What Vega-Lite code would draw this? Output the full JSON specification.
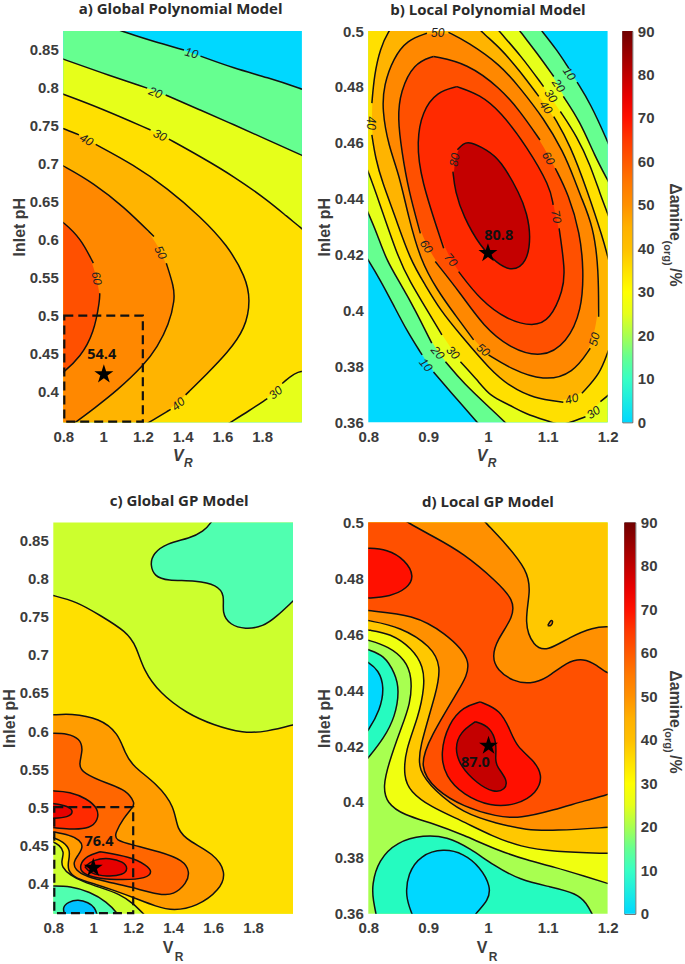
{"$schema":"https://vega.github.io/schema/vega-lite/v6.json","padding":{"left":0.3,"top":2,"right":0,"bottom":0},"background":"white","bounds":"flush","spacing":491.4,
"config":{"view":{"stroke":null},"axis":{"grid":false,"ticks":false,"domain":false,"labelFlush":false,"labelFont":"Liberation Sans","labelFontWeight":"bold","labelFontSize":15,"labelColor":"#3c3c3c","titleFont":"Liberation Sans","titleFontWeight":"bold","titleFontSize":16,"titleColor":"#3c3c3c","labelPadding":5,"titlePadding":2},"title":{"font":"Open Sans","fontWeight":"bold","fontSize":15,"color":"#2a2a2a","anchor":"middle","offset":14}},
"datasets":{
"a":[{"v":5,"x":-1,"y":-0.5},{"v":5,"x":4,"y":-0.5},{"v":5,"x":4,"y":1.8},{"v":5,"x":-1,"y":1.8},
{"v":15,"s":1,"x":1.038,"y":0.88},{"v":15,"s":1,"x":1.088,"y":0.874},{"v":15,"s":1,"x":1.239,"y":0.8615},{"v":15,"s":1,"x":1.407,"y":0.849},{"v":15,"s":2,"x":1.49,"y":0.841},{"v":15,"s":2,"x":1.658,"y":0.825},{"v":15,"s":2,"x":1.826,"y":0.813},{"v":15,"s":2,"x":2.0,"y":0.798},{"v":15,"s":2,"x":2.077,"y":0.79},{"v":15,"x":4,"y":-0.5},{"v":15,"x":-1,"y":-0.5},{"v":15,"x":-1,"y":1.8},{"v":15,"x":1.0,"y":1.8},
{"v":25,"s":3,"x":0.736,"y":0.843},{"v":25,"s":3,"x":0.8,"y":0.837},{"v":25,"s":3,"x":0.988,"y":0.8195},{"v":25,"s":3,"x":1.222,"y":0.799},{"v":25,"s":4,"x":1.315,"y":0.79},{"v":25,"s":4,"x":1.49,"y":0.77},{"v":25,"s":4,"x":1.658,"y":0.751},{"v":25,"s":4,"x":1.826,"y":0.731},{"v":25,"s":4,"x":2.0,"y":0.711},{"v":25,"s":4,"x":2.077,"y":0.701},{"v":25,"x":4,"y":-0.5},{"v":25,"x":-1,"y":-0.5},{"v":25,"x":-1,"y":1.8},
{"v":35,"s":5,"x":0.736,"y":0.797},{"v":35,"s":5,"x":0.8,"y":0.791},{"v":35,"s":5,"x":0.988,"y":0.7726},{"v":35,"s":5,"x":1.239,"y":0.744},{"v":35,"s":6,"x":1.331,"y":0.732},{"v":35,"s":6,"x":1.49,"y":0.709},{"v":35,"s":6,"x":1.658,"y":0.683},{"v":35,"s":6,"x":1.826,"y":0.652},{"v":35,"s":6,"x":1.926,"y":0.63},{"v":35,"s":6,"x":2.0,"y":0.6145},{"v":35,"s":6,"x":2.077,"y":0.597},{"v":35,"x":2.1,"y":0.45},{"v":35,"s":7,"x":2.077,"y":0.417},{"v":35,"s":7,"x":2.0,"y":0.433},{"v":35,"s":7,"x":1.901,"y":0.411},{"v":35,"s":8,"x":1.826,"y":0.391},{"v":35,"s":8,"x":1.7335,"y":0.375},{"v":35,"s":8,"x":1.641,"y":0.36},{"v":35,"s":8,"x":1.574,"y":0.349},{"v":35,"x":-1,"y":-0.5},{"v":35,"x":-1,"y":1.8},
{"v":45,"s":9,"x":0.736,"y":0.752},{"v":45,"s":9,"x":0.8,"y":0.746},{"v":45,"s":9,"x":0.879,"y":0.7376},{"v":45,"s":10,"x":0.963,"y":0.725},{"v":45,"s":10,"x":1.155,"y":0.698},{"v":45,"s":10,"x":1.323,"y":0.6675},{"v":45,"s":10,"x":1.49,"y":0.63},{"v":45,"s":10,"x":1.625,"y":0.593},{"v":45,"s":10,"x":1.717,"y":0.551},{"v":45,"s":10,"x":1.742,"y":0.521},{"v":45,"s":10,"x":1.717,"y":0.4835},{"v":45,"s":10,"x":1.625,"y":0.451},{"v":45,"s":10,"x":1.524,"y":0.424},{"v":45,"s":10,"x":1.415,"y":0.396},{"v":45,"s":11,"x":1.34,"y":0.377},{"v":45,"s":11,"x":1.231,"y":0.36},{"v":45,"s":11,"x":1.172,"y":0.35},{"v":45,"x":-1,"y":-0.5},{"v":45,"x":-1,"y":1.8},
{"v":55,"s":12,"x":0.736,"y":0.7056},{"v":55,"s":12,"x":0.8,"y":0.697},{"v":55,"s":12,"x":0.954,"y":0.674},{"v":55,"s":12,"x":1.105,"y":0.643},{"v":55,"s":12,"x":1.256,"y":0.604},{"v":55,"s":13,"x":1.318,"y":0.569},{"v":55,"s":13,"x":1.356,"y":0.538},{"v":55,"s":13,"x":1.361,"y":0.521},{"v":55,"s":13,"x":1.331,"y":0.488},{"v":55,"s":13,"x":1.273,"y":0.459},{"v":55,"s":13,"x":1.206,"y":0.435},{"v":55,"s":13,"x":1.072,"y":0.402},{"v":55,"s":13,"x":0.954,"y":0.378},{"v":55,"s":13,"x":0.862,"y":0.36},{"v":55,"s":13,"x":0.803,"y":0.35},{"v":55,"x":-1,"y":-0.5},{"v":55,"x":-1,"y":1.8},
{"v":65,"s":14,"x":0.736,"y":0.635},{"v":65,"s":14,"x":0.8,"y":0.623},{"v":65,"s":14,"x":0.887,"y":0.602},{"v":65,"s":14,"x":0.951,"y":0.569},{"v":65,"s":15,"x":0.983,"y":0.5295},{"v":65,"s":15,"x":0.984,"y":0.521},{"v":65,"s":15,"x":0.954,"y":0.477},{"v":65,"s":15,"x":0.887,"y":0.446},{"v":65,"s":15,"x":0.8,"y":0.425},{"v":65,"s":15,"x":0.736,"y":0.413},{"v":65,"x":0.652,"y":0.413},{"v":65,"x":0.652,"y":0.63}],
"aL":[{"x":1.445,"y":0.845,"t":"10","a":15},{"x":1.264,"y":0.793,"t":"20","a":22},{"x":1.286,"y":0.737,"t":"30","a":25},{"x":0.917,"y":0.731,"t":"40","a":30},{"x":1.289,"y":0.583,"t":"50","a":65},{"x":0.968,"y":0.549,"t":"60","a":80},{"x":1.378,"y":0.384,"t":"40","a":-40},{"x":1.868,"y":0.399,"t":"30","a":-40}],
"b":[{"v":5,"x":0.4,"y":0.2},{"v":5,"x":1.6,"y":0.2},{"v":5,"x":1.6,"y":0.65},{"v":5,"x":0.4,"y":0.65},
{"v":15,"s":1,"x":1.076,"y":0.504},{"v":15,"s":1,"x":1.09,"y":0.5},{"v":15,"s":1,"x":1.115,"y":0.4933},{"v":15,"s":1,"x":1.135,"y":0.4867},{"v":15,"s":2,"x":1.149,"y":0.4817},{"v":15,"s":2,"x":1.171,"y":0.4742},{"v":15,"s":2,"x":1.2,"y":0.4605},{"v":15,"s":2,"x":1.21,"y":0.4551},{"v":15,"x":1.6,"y":0.2},{"v":15,"s":3,"x":0.9955,"y":0.3567},{"v":15,"s":3,"x":0.982,"y":0.36},{"v":15,"s":3,"x":0.937,"y":0.371},{"v":15,"s":3,"x":0.909,"y":0.378},{"v":15,"s":4,"x":0.89,"y":0.3841},{"v":15,"s":4,"x":0.865,"y":0.3925},{"v":15,"s":4,"x":0.842,"y":0.402},{"v":15,"s":4,"x":0.82,"y":0.4109},{"v":15,"s":4,"x":0.8,"y":0.4181},{"v":15,"s":4,"x":0.787,"y":0.4223},{"v":15,"x":0.4,"y":0.65},
{"v":25,"s":5,"x":1.04,"y":0.504},{"v":25,"s":5,"x":1.053,"y":0.5},{"v":25,"s":5,"x":1.082,"y":0.4921},{"v":25,"s":5,"x":1.11,"y":0.4837},{"v":25,"s":6,"x":1.126,"y":0.4766},{"v":25,"s":6,"x":1.154,"y":0.4676},{"v":25,"s":6,"x":1.179,"y":0.4551},{"v":25,"s":6,"x":1.2,"y":0.4467},{"v":25,"s":6,"x":1.21,"y":0.4426},{"v":25,"x":1.6,"y":0.2},{"v":25,"s":7,"x":1.043,"y":0.3567},{"v":25,"s":7,"x":1.029,"y":0.36},{"v":25,"s":7,"x":1.004,"y":0.365},{"v":25,"s":7,"x":0.959,"y":0.374},{"v":25,"s":7,"x":0.929,"y":0.3817},{"v":25,"s":8,"x":0.906,"y":0.3883},{"v":25,"s":8,"x":0.8785,"y":0.4002},{"v":25,"s":8,"x":0.8535,"y":0.4097},{"v":25,"s":8,"x":0.83,"y":0.4181},{"v":25,"s":8,"x":0.8145,"y":0.4276},{"v":25,"s":8,"x":0.8,"y":0.4348},{"v":25,"s":8,"x":0.789,"y":0.4402},{"v":25,"x":0.4,"y":0.65},
{"v":35,"s":9,"x":1.004,"y":0.504},{"v":35,"s":9,"x":1.018,"y":0.5},{"v":35,"s":9,"x":1.054,"y":0.4915},{"v":35,"s":9,"x":1.093,"y":0.4801},{"v":35,"s":10,"x":1.121,"y":0.4712},{"v":35,"s":10,"x":1.149,"y":0.4622},{"v":35,"s":10,"x":1.171,"y":0.4521},{"v":35,"s":10,"x":1.188,"y":0.4414},{"v":35,"s":10,"x":1.2,"y":0.4348},{"v":35,"s":10,"x":1.21,"y":0.4288},{"v":35,"x":1.221,"y":0.374},{"v":35,"s":11,"x":1.21,"y":0.3716},{"v":35,"s":11,"x":1.2,"y":0.3694},{"v":35,"s":11,"x":1.188,"y":0.3674},{"v":35,"s":12,"x":1.163,"y":0.362},{"v":35,"s":12,"x":1.1375,"y":0.3599},{"v":35,"s":12,"x":1.121,"y":0.3589},{"v":35,"s":12,"x":1.107,"y":0.36},{"v":35,"s":12,"x":1.06,"y":0.3632},{"v":35,"s":12,"x":1.037,"y":0.3662},{"v":35,"s":12,"x":1.004,"y":0.3692},{"v":35,"s":12,"x":0.982,"y":0.3752},{"v":35,"s":12,"x":0.954,"y":0.3817},{"v":35,"s":13,"x":0.923,"y":0.3913},{"v":35,"s":13,"x":0.898,"y":0.4002},{"v":35,"s":13,"x":0.87,"y":0.4103},{"v":35,"s":13,"x":0.851,"y":0.4181},{"v":35,"s":13,"x":0.817,"y":0.4396},{"v":35,"s":13,"x":0.8,"y":0.4497},{"v":35,"s":13,"x":0.789,"y":0.4551},{"v":35,"x":0.4,"y":0.65},
{"v":45,"s":14,"x":0.976,"y":0.5034},{"v":45,"s":14,"x":0.987,"y":0.5},{"v":45,"s":14,"x":1.021,"y":0.4939},{"v":45,"s":14,"x":1.054,"y":0.4855},{"v":45,"s":14,"x":1.085,"y":0.4766},{"v":45,"s":15,"x":1.11,"y":0.4694},{"v":45,"s":15,"x":1.1375,"y":0.4593},{"v":45,"s":15,"x":1.1665,"y":0.4426},{"v":45,"s":15,"x":1.193,"y":0.4253},{"v":45,"s":15,"x":1.2,"y":0.4193},{"v":45,"s":15,"x":1.21,"y":0.4121},{"v":45,"x":1.221,"y":0.3919},{"v":45,"s":16,"x":1.21,"y":0.3895},{"v":45,"s":16,"x":1.2,"y":0.3853},{"v":45,"s":16,"x":1.188,"y":0.3775},{"v":45,"s":16,"x":1.157,"y":0.3704},{"v":45,"s":17,"x":1.126,"y":0.3672},{"v":45,"s":17,"x":1.076,"y":0.3686},{"v":45,"s":17,"x":1.037,"y":0.3728},{"v":45,"s":17,"x":1.004,"y":0.3787},{"v":45,"s":17,"x":0.954,"y":0.3913},{"v":45,"s":17,"x":0.92,"y":0.4002},{"v":45,"s":17,"x":0.895,"y":0.4092},{"v":45,"s":17,"x":0.87,"y":0.4181},{"v":45,"s":17,"x":0.845,"y":0.4336},{"v":45,"s":17,"x":0.823,"y":0.4461},{"v":45,"s":17,"x":0.812,"y":0.4545},{"v":45,"s":17,"x":0.806,"y":0.4628},{"v":45,"s":18,"x":0.806,"y":0.4742},{"v":45,"s":18,"x":0.81,"y":0.4843},{"v":45,"s":18,"x":0.82,"y":0.4939},{"v":45,"s":18,"x":0.834,"y":0.5},{"v":45,"s":18,"x":0.848,"y":0.504},
{"v":55,"s":19,"x":0.934,"y":0.4995},{"v":55,"s":19,"x":0.965,"y":0.4962},{"v":55,"s":19,"x":1.021,"y":0.4879},{"v":55,"s":19,"x":1.054,"y":0.4795},{"v":55,"s":19,"x":1.093,"y":0.4688},{"v":55,"s":19,"x":1.126,"y":0.4569},{"v":55,"s":19,"x":1.146,"y":0.4461},{"v":55,"s":19,"x":1.154,"y":0.4414},{"v":55,"s":19,"x":1.1765,"y":0.43},{"v":55,"s":19,"x":1.185,"y":0.4145},{"v":55,"s":19,"x":1.185,"y":0.3978},{"v":55,"s":20,"x":1.171,"y":0.3865},{"v":55,"s":20,"x":1.143,"y":0.3775},{"v":55,"s":20,"x":1.093,"y":0.3746},{"v":55,"s":20,"x":1.037,"y":0.3793},{"v":55,"s":20,"x":1.001,"y":0.3841},{"v":55,"s":21,"x":0.976,"y":0.3895},{"v":55,"s":21,"x":0.943,"y":0.399},{"v":55,"s":21,"x":0.915,"y":0.4074},{"v":55,"s":21,"x":0.887,"y":0.4181},{"v":55,"s":21,"x":0.867,"y":0.4336},{"v":55,"s":21,"x":0.851,"y":0.4491},{"v":55,"s":21,"x":0.834,"y":0.4587},{"v":55,"s":21,"x":0.823,"y":0.4718},{"v":55,"s":21,"x":0.826,"y":0.4807},{"v":55,"s":21,"x":0.842,"y":0.4903},{"v":55,"s":21,"x":0.865,"y":0.4968},{"v":55,"s":21,"x":0.898,"y":0.4992},
{"v":65,"s":22,"x":0.909,"y":0.4909},{"v":65,"s":22,"x":0.965,"y":0.4885},{"v":65,"s":22,"x":1.021,"y":0.4795},{"v":65,"s":22,"x":1.054,"y":0.4712},{"v":65,"s":22,"x":1.087,"y":0.461},{"v":65,"s":23,"x":1.1125,"y":0.4509},{"v":65,"s":23,"x":1.135,"y":0.4414},{"v":65,"s":23,"x":1.154,"y":0.4276},{"v":65,"s":23,"x":1.16,"y":0.4145},{"v":65,"s":23,"x":1.157,"y":0.4002},{"v":65,"s":23,"x":1.132,"y":0.3883},{"v":65,"s":23,"x":1.09,"y":0.3829},{"v":65,"s":23,"x":1.037,"y":0.3865},{"v":65,"s":23,"x":0.993,"y":0.3942},{"v":65,"s":23,"x":0.954,"y":0.4062},{"v":65,"s":23,"x":0.912,"y":0.4175},{"v":65,"s":24,"x":0.887,"y":0.4276},{"v":65,"s":24,"x":0.867,"y":0.4432},{"v":65,"s":24,"x":0.856,"y":0.4569},{"v":65,"s":24,"x":0.849,"y":0.4688},{"v":65,"s":24,"x":0.8535,"y":0.4783},{"v":65,"s":24,"x":0.876,"y":0.4885},{"v":65,"s":24,"x":0.909,"y":0.4909},
{"v":75,"s":25,"x":0.948,"y":0.4801},{"v":75,"s":25,"x":0.987,"y":0.4772},{"v":75,"s":25,"x":1.021,"y":0.4712},{"v":75,"s":25,"x":1.065,"y":0.4587},{"v":75,"s":25,"x":1.104,"y":0.4443},{"v":75,"s":25,"x":1.109,"y":0.4378},{"v":75,"s":26,"x":1.119,"y":0.4294},{"v":75,"s":26,"x":1.129,"y":0.4145},{"v":75,"s":26,"x":1.126,"y":0.4074},{"v":75,"s":26,"x":1.104,"y":0.3966},{"v":75,"s":26,"x":1.076,"y":0.3942},{"v":75,"s":26,"x":1.032,"y":0.3966},{"v":75,"s":26,"x":0.987,"y":0.4038},{"v":75,"s":26,"x":0.951,"y":0.4139},{"v":75,"s":27,"x":0.926,"y":0.4223},{"v":75,"s":27,"x":0.887,"y":0.4473},{"v":75,"s":27,"x":0.881,"y":0.4605},{"v":75,"s":27,"x":0.89,"y":0.4712},{"v":75,"s":27,"x":0.915,"y":0.4783},{"v":75,"s":27,"x":0.948,"y":0.4801},
{"v":85,"s":28,"x":0.949,"y":0.4575},{"v":85,"s":28,"x":0.958,"y":0.4597},{"v":85,"s":28,"x":0.97,"y":0.4605},{"v":85,"s":28,"x":0.998,"y":0.4575},{"v":85,"s":28,"x":1.021,"y":0.4539},{"v":85,"s":28,"x":1.054,"y":0.4414},{"v":85,"s":28,"x":1.065,"y":0.4348},{"v":85,"s":28,"x":1.072,"y":0.4265},{"v":85,"s":28,"x":1.065,"y":0.4169},{"v":85,"s":28,"x":1.04,"y":0.4139},{"v":85,"s":28,"x":1.015,"y":0.4169},{"v":85,"s":28,"x":0.987,"y":0.4229},{"v":85,"s":28,"x":0.959,"y":0.4336},{"v":85,"s":28,"x":0.945,"y":0.4426},{"v":85,"s":28,"x":0.9415,"y":0.4497}],
"bL":[{"x":1.136,"y":0.4847,"t":"10","a":55},{"x":1.118,"y":0.4804,"t":"20","a":55},{"x":1.105,"y":0.4768,"t":"30","a":55},{"x":1.097,"y":0.4727,"t":"40","a":55},{"x":1.101,"y":0.4545,"t":"60","a":60},{"x":0.944,"y":0.4539,"t":"80","a":-80},{"x":1.114,"y":0.4336,"t":"70","a":80},{"x":0.804,"y":0.467,"t":"40","a":90},{"x":0.916,"y":0.4992,"t":"50","a":0},{"x":0.897,"y":0.4229,"t":"60","a":55},{"x":0.938,"y":0.4181,"t":"70","a":50},{"x":0.992,"y":0.3859,"t":"50","a":40},{"x":0.9415,"y":0.3849,"t":"30","a":45},{"x":0.916,"y":0.3849,"t":"20","a":50},{"x":0.896,"y":0.3805,"t":"10","a":50},{"x":1.14,"y":0.3684,"t":"40","a":-15},{"x":1.1765,"y":0.3635,"t":"30","a":-35},{"x":1.178,"y":0.3897,"t":"50","a":-75}],
"c":[{"v":22,"x":-1,"y":-0.5},{"v":22,"x":4,"y":-0.5},{"v":22,"x":4,"y":1.8},{"v":22,"x":-1,"y":1.8},
{"v":12,"s":1,"x":1.609,"y":0.8838},{"v":12,"s":1,"x":1.593,"y":0.874},{"v":12,"s":1,"x":1.551,"y":0.862},{"v":12,"s":1,"x":1.484,"y":0.8532},{"v":12,"s":1,"x":1.367,"y":0.8466},{"v":12,"s":1,"x":1.3,"y":0.8335},{"v":12,"s":1,"x":1.284,"y":0.8181},{"v":12,"s":1,"x":1.309,"y":0.8028},{"v":12,"s":1,"x":1.367,"y":0.7976},{"v":12,"s":1,"x":1.518,"y":0.7976},{"v":12,"s":1,"x":1.618,"y":0.7919},{"v":12,"s":1,"x":1.6595,"y":0.7787},{"v":12,"s":1,"x":1.643,"y":0.7546},{"v":12,"s":1,"x":1.685,"y":0.7393},{"v":12,"s":1,"x":1.76,"y":0.7336},{"v":12,"s":1,"x":1.851,"y":0.7371},{"v":12,"s":1,"x":1.918,"y":0.7503},{"v":12,"s":1,"x":2.0,"y":0.7708},{"v":12,"s":1,"x":2.052,"y":0.7831},{"v":12,"x":2.1,"y":0.9},{"v":12,"x":1.62,"y":0.9},
{"v":12.01,"s":2,"x":0.75,"y":0.3964},{"v":12.01,"s":2,"x":0.8,"y":0.3964},{"v":12.01,"s":2,"x":0.883,"y":0.3964},{"v":12.01,"s":2,"x":0.984,"y":0.3889},{"v":12.01,"s":2,"x":1.067,"y":0.3758},{"v":12.01,"s":2,"x":1.1255,"y":0.36},{"v":12.01,"s":2,"x":1.15,"y":0.347},{"v":12.01,"x":0.75,"y":0.347},
{"v":1,"s":3,"x":0.858,"y":0.358},{"v":1,"s":3,"x":0.845,"y":0.3683},{"v":1,"s":3,"x":0.875,"y":0.3758},{"v":1,"s":3,"x":0.925,"y":0.3788},{"v":1,"s":3,"x":0.975,"y":0.3749},{"v":1,"s":3,"x":1.009,"y":0.3683},{"v":1,"s":3,"x":1.02,"y":0.358},{"v":1,"x":1.0,"y":0.35},{"v":1,"x":0.875,"y":0.35},
{"v":35,"s":4,"x":0.75,"y":0.781},{"v":35,"s":4,"x":0.8,"y":0.778},{"v":35,"s":4,"x":0.917,"y":0.77},{"v":35,"s":4,"x":1.034,"y":0.752},{"v":35,"s":4,"x":1.167,"y":0.7305},{"v":35,"s":4,"x":1.217,"y":0.7108},{"v":35,"s":4,"x":1.251,"y":0.68},{"v":35,"s":4,"x":1.334,"y":0.6495},{"v":35,"s":4,"x":1.468,"y":0.6232},{"v":35,"s":4,"x":1.601,"y":0.6079},{"v":35,"s":4,"x":1.751,"y":0.597},{"v":35,"s":4,"x":1.868,"y":0.5991},{"v":35,"s":4,"x":2.0,"y":0.6079},{"v":35,"s":4,"x":2.052,"y":0.6123},{"v":35,"x":4,"y":-0.5},{"v":35,"s":5,"x":1.3,"y":0.347},{"v":35,"s":5,"x":1.251,"y":0.36},{"v":35,"s":5,"x":1.2,"y":0.3736},{"v":35,"s":5,"x":1.134,"y":0.3858},{"v":35,"s":5,"x":1.034,"y":0.3946},{"v":35,"s":5,"x":0.95,"y":0.402},{"v":35,"s":5,"x":0.883,"y":0.4108},{"v":35,"s":5,"x":0.842,"y":0.4218},{"v":35,"s":5,"x":0.842,"y":0.4305},{"v":35,"s":5,"x":0.855,"y":0.4415},{"v":35,"s":5,"x":0.83,"y":0.4502},{"v":35,"s":5,"x":0.8,"y":0.4546},{"v":35,"s":5,"x":0.75,"y":0.459},
{"v":50,"s":6,"x":0.75,"y":0.621},{"v":50,"s":6,"x":0.8,"y":0.621},{"v":50,"s":6,"x":0.883,"y":0.6232},{"v":50,"s":6,"x":1.034,"y":0.6167},{"v":50,"s":6,"x":1.1255,"y":0.597},{"v":50,"s":6,"x":1.159,"y":0.5707},{"v":50,"s":6,"x":1.2,"y":0.5532},{"v":50,"s":6,"x":1.317,"y":0.5313},{"v":50,"s":6,"x":1.409,"y":0.5006},{"v":50,"s":6,"x":1.4175,"y":0.47},{"v":50,"s":6,"x":1.484,"y":0.4546},{"v":50,"s":6,"x":1.601,"y":0.4393},{"v":50,"s":6,"x":1.668,"y":0.4152},{"v":50,"s":6,"x":1.6345,"y":0.3911},{"v":50,"s":6,"x":1.518,"y":0.3692},{"v":50,"s":6,"x":1.401,"y":0.3639},{"v":50,"s":6,"x":1.317,"y":0.3692},{"v":50,"s":6,"x":1.2,"y":0.3815},{"v":50,"s":6,"x":1.1,"y":0.3911},{"v":50,"s":6,"x":1.017,"y":0.3985},{"v":50,"s":6,"x":0.9085,"y":0.4064},{"v":50,"s":6,"x":0.872,"y":0.4174},{"v":50,"s":6,"x":0.875,"y":0.4283},{"v":50,"s":6,"x":0.887,"y":0.4437},{"v":50,"s":6,"x":0.85,"y":0.4546},{"v":50,"s":6,"x":0.8,"y":0.4603},{"v":50,"s":6,"x":0.75,"y":0.4634},
{"v":60,"s":7,"x":0.75,"y":0.597},{"v":60,"s":7,"x":0.8,"y":0.597},{"v":60,"s":7,"x":0.867,"y":0.597},{"v":60,"s":7,"x":0.9335,"y":0.5904},{"v":60,"s":7,"x":0.95,"y":0.5751},{"v":60,"s":7,"x":0.925,"y":0.5553},{"v":60,"s":7,"x":0.95,"y":0.5444},{"v":60,"s":7,"x":1.067,"y":0.5313},{"v":60,"s":7,"x":1.167,"y":0.5225},{"v":60,"s":7,"x":1.209,"y":0.505},{"v":60,"s":7,"x":1.2,"y":0.5006},{"v":60,"s":7,"x":1.1505,"y":0.4853},{"v":60,"s":7,"x":1.109,"y":0.4656},{"v":60,"s":7,"x":1.109,"y":0.4568},{"v":60,"s":7,"x":1.2,"y":0.4502},{"v":60,"s":7,"x":1.334,"y":0.4415},{"v":60,"s":7,"x":1.451,"y":0.4305},{"v":60,"s":7,"x":1.484,"y":0.4152},{"v":60,"s":7,"x":1.468,"y":0.3999},{"v":60,"s":7,"x":1.401,"y":0.3845},{"v":60,"s":7,"x":1.334,"y":0.3845},{"v":60,"s":7,"x":1.184,"y":0.3955},{"v":60,"s":7,"x":1.067,"y":0.402},{"v":60,"s":7,"x":0.967,"y":0.4086},{"v":60,"s":7,"x":0.9085,"y":0.4174},{"v":60,"s":7,"x":0.9,"y":0.4283},{"v":60,"s":7,"x":0.925,"y":0.4371},{"v":60,"s":7,"x":0.95,"y":0.448},{"v":60,"s":7,"x":0.9335,"y":0.4568},{"v":60,"s":7,"x":0.883,"y":0.4634},{"v":60,"s":7,"x":0.8,"y":0.4677},{"v":60,"s":7,"x":0.75,"y":0.47},
{"v":75,"s":8,"x":0.75,"y":0.5216},{"v":75,"s":8,"x":0.8,"y":0.5216},{"v":75,"s":8,"x":0.883,"y":0.5203},{"v":75,"s":8,"x":0.967,"y":0.5115},{"v":75,"s":8,"x":1.025,"y":0.4984},{"v":75,"s":8,"x":1.025,"y":0.4831},{"v":75,"s":8,"x":0.984,"y":0.4721},{"v":75,"s":8,"x":0.892,"y":0.4708},{"v":75,"s":8,"x":0.8,"y":0.4734},{"v":75,"s":8,"x":0.75,"y":0.4734},
{"v":75.01,"s":9,"x":1.034,"y":0.4415},{"v":75.01,"s":9,"x":1.184,"y":0.4349},{"v":75.01,"s":9,"x":1.267,"y":0.4239},{"v":75.01,"s":9,"x":1.297,"y":0.4152},{"v":75.01,"s":9,"x":1.267,"y":0.4064},{"v":75.01,"s":9,"x":1.1505,"y":0.4042},{"v":75.01,"s":9,"x":1.017,"y":0.4064},{"v":75.01,"s":9,"x":0.942,"y":0.413},{"v":75.01,"s":9,"x":0.93,"y":0.4239},{"v":75.01,"s":9,"x":0.967,"y":0.4362},{"v":75.01,"s":9,"x":1.034,"y":0.4415},
{"v":80,"s":10,"x":0.9586,"y":0.4218},{"v":80,"s":10,"x":1.0,"y":0.4314},{"v":80,"s":10,"x":1.084,"y":0.4336},{"v":80,"s":10,"x":1.1505,"y":0.4283},{"v":80,"s":10,"x":1.1755,"y":0.4196},{"v":80,"s":10,"x":1.1505,"y":0.4108},{"v":80,"s":10,"x":1.067,"y":0.4086},{"v":80,"s":10,"x":0.984,"y":0.413},{"v":80,"s":10,"x":0.9586,"y":0.4218},
{"v":80.01,"s":11,"x":0.75,"y":0.5059},{"v":80.01,"s":11,"x":0.8,"y":0.505},{"v":80.01,"s":11,"x":0.875,"y":0.5015},{"v":80.01,"s":11,"x":0.9035,"y":0.494},{"v":80.01,"s":11,"x":0.875,"y":0.4866},{"v":80.01,"s":11,"x":0.8,"y":0.4853},{"v":80.01,"s":11,"x":0.75,"y":0.4853}],
"d":[{"v":20,"x":0.4,"y":0.2},{"v":20,"x":1.6,"y":0.2},{"v":20,"x":1.6,"y":0.65},{"v":20,"x":0.4,"y":0.65},
{"v":11,"s":1,"x":0.8145,"y":0.3583},{"v":11,"s":1,"x":0.808,"y":0.3649},{"v":11,"s":1,"x":0.806,"y":0.3703},{"v":11,"s":1,"x":0.817,"y":0.3792},{"v":11,"s":1,"x":0.848,"y":0.3858},{"v":11,"s":1,"x":0.8925,"y":0.3882},{"v":11,"s":1,"x":0.9315,"y":0.3876},{"v":11,"s":1,"x":0.97,"y":0.3834},{"v":11,"s":1,"x":1.009,"y":0.3774},{"v":11,"s":1,"x":1.054,"y":0.372},{"v":11,"s":1,"x":1.104,"y":0.3697},{"v":11,"s":1,"x":1.149,"y":0.3673},{"v":11,"s":1,"x":1.165,"y":0.3637},{"v":11,"s":1,"x":1.174,"y":0.36},{"v":11,"s":1,"x":1.179,"y":0.3577},{"v":11,"x":1.2,"y":0.34},{"v":11,"x":0.8,"y":0.34},
{"v":11.01,"s":2,"x":0.787,"y":0.4556},{"v":11.01,"s":2,"x":0.8,"y":0.4544},{"v":11.01,"s":2,"x":0.826,"y":0.4526},{"v":11.01,"s":2,"x":0.845,"y":0.446},{"v":11.01,"s":2,"x":0.852,"y":0.44},{"v":11.01,"s":2,"x":0.845,"y":0.4305},{"v":11.01,"s":2,"x":0.826,"y":0.4228},{"v":11.01,"s":2,"x":0.8,"y":0.4158},{"v":11.01,"s":2,"x":0.787,"y":0.4126},
{"v":5,"s":3,"x":0.876,"y":0.3583},{"v":5,"s":3,"x":0.873,"y":0.36},{"v":5,"s":3,"x":0.862,"y":0.3661},{"v":5,"s":3,"x":0.866,"y":0.3744},{"v":5,"s":3,"x":0.887,"y":0.381},{"v":5,"s":3,"x":0.926,"y":0.3834},{"v":5,"s":3,"x":0.959,"y":0.3816},{"v":5,"s":3,"x":0.987,"y":0.3768},{"v":5,"s":3,"x":1.005,"y":0.3697},{"v":5,"s":3,"x":1.001,"y":0.3649},{"v":5,"s":3,"x":0.979,"y":0.36},{"v":5,"s":3,"x":0.973,"y":0.3577},
{"v":5.01,"s":4,"x":0.787,"y":0.4514},{"v":5.01,"s":4,"x":0.8,"y":0.45},{"v":5.01,"s":4,"x":0.817,"y":0.4472},{"v":5.01,"s":4,"x":0.827,"y":0.4412},{"v":5.01,"s":4,"x":0.82,"y":0.4329},{"v":5.01,"s":4,"x":0.8,"y":0.4255},{"v":5.01,"s":4,"x":0.787,"y":0.4222},
{"v":28,"s":5,"x":0.787,"y":0.4585},{"v":28,"s":5,"x":0.8,"y":0.4579},{"v":28,"s":5,"x":0.834,"y":0.4556},{"v":28,"s":5,"x":0.862,"y":0.4508},{"v":28,"s":5,"x":0.873,"y":0.4448},{"v":28,"s":5,"x":0.871,"y":0.4353},{"v":28,"s":5,"x":0.8535,"y":0.4257},{"v":28,"s":5,"x":0.834,"y":0.4138},{"v":28,"s":5,"x":0.8245,"y":0.4055},{"v":28,"s":5,"x":0.831,"y":0.3995},{"v":28,"s":5,"x":0.859,"y":0.3953},{"v":28,"s":5,"x":0.909,"y":0.3923},{"v":28,"s":5,"x":0.959,"y":0.3882},{"v":28,"s":5,"x":1.015,"y":0.3828},{"v":28,"s":5,"x":1.065,"y":0.3792},{"v":28,"s":5,"x":1.11,"y":0.3768},{"v":28,"s":5,"x":1.165,"y":0.3732},{"v":28,"s":5,"x":1.2,"y":0.3709},{"v":28,"s":5,"x":1.21,"y":0.3701},{"v":28,"x":1.6,"y":0.37},{"v":28,"x":1.6,"y":0.65},{"v":28,"x":0.4,"y":0.65},{"v":28,"x":0.4,"y":0.4585},
{"v":40,"s":6,"x":0.787,"y":0.462},{"v":40,"s":6,"x":0.8,"y":0.4615},{"v":40,"s":6,"x":0.837,"y":0.4603},{"v":40,"s":6,"x":0.873,"y":0.455},{"v":40,"s":6,"x":0.8925,"y":0.4484},{"v":40,"s":6,"x":0.894,"y":0.4412},{"v":40,"s":6,"x":0.884,"y":0.4305},{"v":40,"s":6,"x":0.862,"y":0.4186},{"v":40,"s":6,"x":0.859,"y":0.409},{"v":40,"s":6,"x":0.87,"y":0.4037},{"v":40,"s":6,"x":0.9036,"y":0.3983},{"v":40,"s":6,"x":0.954,"y":0.3935},{"v":40,"s":6,"x":1.009,"y":0.3876},{"v":40,"s":6,"x":1.054,"y":0.384},{"v":40,"s":6,"x":1.11,"y":0.3822},{"v":40,"s":6,"x":1.2,"y":0.3816},{"v":40,"s":6,"x":1.21,"y":0.3816},{"v":40,"x":1.6,"y":0.38},{"v":40,"x":1.6,"y":0.65},{"v":40,"x":0.4,"y":0.65},{"v":40,"x":0.4,"y":0.462},
{"v":53,"s":7,"x":0.787,"y":0.4653},{"v":53,"s":7,"x":0.8,"y":0.4649},{"v":53,"s":7,"x":0.8535,"y":0.4627},{"v":53,"s":7,"x":0.906,"y":0.4556},{"v":53,"s":7,"x":0.9214,"y":0.4484},{"v":53,"s":7,"x":0.915,"y":0.44},{"v":53,"s":7,"x":0.884,"y":0.4186},{"v":53,"s":7,"x":0.884,"y":0.4114},{"v":53,"s":7,"x":0.909,"y":0.4043},{"v":53,"s":7,"x":0.959,"y":0.3959},{"v":53,"s":7,"x":1.015,"y":0.3923},{"v":53,"s":7,"x":1.065,"y":0.3899},{"v":53,"s":7,"x":1.11,"y":0.3897},{"v":53,"s":7,"x":1.2,"y":0.3909},{"v":53,"s":7,"x":1.21,"y":0.3911},{"v":53,"x":1.221,"y":0.4281},{"v":53,"s":8,"x":1.21,"y":0.4627},{"v":53,"s":8,"x":1.2,"y":0.4627},{"v":53,"s":8,"x":1.1765,"y":0.4625},{"v":53,"s":8,"x":1.1375,"y":0.4591},{"v":53,"s":8,"x":1.0986,"y":0.4538},{"v":53,"s":8,"x":1.076,"y":0.4556},{"v":53,"s":8,"x":1.06,"y":0.4639},{"v":53,"s":8,"x":1.072,"y":0.4758},{"v":53,"s":8,"x":1.065,"y":0.483},{"v":53,"s":8,"x":1.032,"y":0.4919},{"v":53,"s":8,"x":0.9955,"y":0.5},{"v":53,"s":8,"x":0.982,"y":0.5033},{"v":53,"x":0.4,"y":0.65},{"v":53,"x":0.4,"y":0.4653},
{"v":53.01,"s":9,"x":1.1,"y":0.4631},{"v":53.01,"s":9,"x":1.105,"y":0.4652},{"v":53.01,"s":9,"x":1.1095,"y":0.4647},{"v":53.01,"s":9,"x":1.1052,"y":0.4628},{"v":53.01,"s":9,"x":1.1,"y":0.4631},
{"v":65,"s":10,"x":0.787,"y":0.4689},{"v":65,"s":10,"x":0.8,"y":0.4684},{"v":65,"s":10,"x":0.876,"y":0.4669},{"v":65,"s":10,"x":0.926,"y":0.4609},{"v":65,"s":10,"x":0.979,"y":0.4502},{"v":65,"s":10,"x":0.951,"y":0.44},{"v":65,"s":10,"x":0.9036,"y":0.4233},{"v":65,"s":10,"x":0.884,"y":0.4126},{"v":65,"s":10,"x":0.912,"y":0.4043},{"v":65,"s":10,"x":0.959,"y":0.3983},{"v":65,"s":10,"x":1.015,"y":0.3947},{"v":65,"s":10,"x":1.054,"y":0.3941},{"v":65,"s":10,"x":1.11,"y":0.3971},{"v":65,"s":10,"x":1.165,"y":0.4007},{"v":65,"s":10,"x":1.2,"y":0.4025},{"v":65,"s":10,"x":1.21,"y":0.4037},{"v":65,"x":1.221,"y":0.4281},{"v":65,"s":11,"x":1.21,"y":0.4466},{"v":65,"s":11,"x":1.2,"y":0.4457},{"v":65,"s":11,"x":1.182,"y":0.449},{"v":65,"s":11,"x":1.16,"y":0.4514},{"v":65,"s":11,"x":1.132,"y":0.4502},{"v":65,"s":11,"x":1.0986,"y":0.4442},{"v":65,"s":11,"x":1.071,"y":0.4422},{"v":65,"s":11,"x":1.043,"y":0.443},{"v":65,"s":11,"x":1.015,"y":0.4472},{"v":65,"s":11,"x":1.007,"y":0.452},{"v":65,"s":11,"x":1.015,"y":0.4579},{"v":65,"s":11,"x":1.043,"y":0.4663},{"v":65,"s":11,"x":1.043,"y":0.4723},{"v":65,"s":11,"x":1.015,"y":0.4788},{"v":65,"s":11,"x":0.959,"y":0.489},{"v":65,"s":11,"x":0.909,"y":0.4949},{"v":65,"s":11,"x":0.865,"y":0.5},{"v":65,"s":11,"x":0.848,"y":0.5027},{"v":65,"x":0.4,"y":0.65},{"v":65,"x":0.4,"y":0.4689},
{"v":77,"s":12,"x":0.787,"y":0.4908},{"v":77,"s":12,"x":0.8,"y":0.4908},{"v":77,"s":12,"x":0.831,"y":0.4904},{"v":77,"s":12,"x":0.862,"y":0.4866},{"v":77,"s":12,"x":0.8774,"y":0.4806},{"v":77,"s":12,"x":0.865,"y":0.4764},{"v":77,"s":12,"x":0.837,"y":0.4735},{"v":77,"s":12,"x":0.8,"y":0.4729},{"v":77,"s":12,"x":0.787,"y":0.4729},
{"v":77.01,"s":13,"x":0.987,"y":0.4358},{"v":77.01,"s":13,"x":1.021,"y":0.4329},{"v":77.01,"s":13,"x":1.037,"y":0.4257},{"v":77.01,"s":13,"x":1.048,"y":0.4198},{"v":77.01,"s":13,"x":1.076,"y":0.415},{"v":77.01,"s":13,"x":1.092,"y":0.4096},{"v":77.01,"s":13,"x":1.082,"y":0.4031},{"v":77.01,"s":13,"x":1.048,"y":0.3989},{"v":77.01,"s":13,"x":1.004,"y":0.3983},{"v":77.01,"s":13,"x":0.959,"y":0.4025},{"v":77.01,"s":13,"x":0.929,"y":0.409},{"v":77.01,"s":13,"x":0.92,"y":0.4174},{"v":77.01,"s":13,"x":0.934,"y":0.4281},{"v":77.01,"s":13,"x":0.959,"y":0.4341},{"v":77.01,"s":13,"x":0.987,"y":0.4358},
{"v":85,"s":14,"x":0.979,"y":0.4287},{"v":85,"s":14,"x":1.004,"y":0.4269},{"v":85,"s":14,"x":1.015,"y":0.421},{"v":85,"s":14,"x":1.012,"y":0.415},{"v":85,"s":14,"x":1.015,"y":0.4126},{"v":85,"s":14,"x":1.033,"y":0.4078},{"v":85,"s":14,"x":1.029,"y":0.4043},{"v":85,"s":14,"x":1.009,"y":0.4033},{"v":85,"s":14,"x":0.982,"y":0.4066},{"v":85,"s":14,"x":0.954,"y":0.4126},{"v":85,"s":14,"x":0.944,"y":0.4192},{"v":85,"s":14,"x":0.954,"y":0.4251},{"v":85,"s":14,"x":0.979,"y":0.4287}]
},
"vconcat":[
{"bounds":"flush","spacing":0,"hconcat":[
{"width":9.5,"height":391.3,"data":{"values":[{}]},"mark":{"type":"rect","opacity":0}},
{"width":238.6,"height":391.3,"title":{"text":"a) Global Polynomial Model","dx":-2},
"encoding":{"x":{"field":"x","type":"quantitative","title":null,"scale":{"domain":[0.8,2.0],"nice":false,"zero":false},"axis":{"values":[0.8,1,1.2,1.4,1.6,1.8],"format":"~g","labelPadding":7}},"y":{"field":"y","type":"quantitative","scale":{"domain":[0.36,0.874],"nice":false,"zero":false},"axis":{"title":"Inlet pH","values":[0.4,0.45,0.5,0.55,0.6,0.65,0.7,0.75,0.8,0.85],"format":"~g"}}},
"layer":[
{"data":{"name":"a"},"transform":[{"window":[{"op":"row_number","as":"i"}]}],"mark":{"type":"line","interpolate":"basis-closed","clip":true,"strokeWidth":0},"encoding":{"fill":{"field":"v","type":"quantitative","legend":null,"scale":{"domain":[0,5,12,15,20,22,25,28,35,40,45,50,53,55,60,65,75,77,80,85,90],"range":["#00bcff","#00d8ff","#50ffb0","#66ff90","#a8ff50","#ccff2e","#e6ff1a","#f0ff10","#ffe000","#ffc800","#ffb400","#ff9c00","#ff9000","#ff8800","#ff6600","#ff5000","#ff2a00","#ff1000","#e60000","#c40000","#700000"]}},"detail":{"field":"v","type":"nominal"},"order":{"field":"i","type":"quantitative"}}},
{"data":{"name":"a"},"transform":[{"window":[{"op":"row_number","as":"i"}]},{"filter":"datum.s"}],"mark":{"type":"line","interpolate":"basis","clip":true,"stroke":"#111","strokeWidth":1.5},"encoding":{"detail":{"field":"s","type":"nominal"},"order":{"field":"i","type":"quantitative"}}},
{"data":{"values":[{"x":0.805,"x2":1.2,"y":0.361,"y2":0.5}]},"mark":{"type":"rect","fill":null,"stroke":"#111","strokeWidth":2.2,"strokeDash":[9,5]},"encoding":{"x2":{"field":"x2"},"y2":{"field":"y2"}}},
{"data":{"name":"aL"},"mark":{"type":"text","font":"Liberation Sans","fontStyle":"italic","fontSize":12,"fill":"#222"},"encoding":{"text":{"field":"t"},"angle":{"field":"a","type":"quantitative","scale":null}}},
{"data":{"values":[{"x":1.004,"y":0.423}]},"mark":{"type":"point","filled":true,"fill":"black","stroke":null,"opacity":1,"size":400,"shape":"M0,-1L0.225,-0.309L0.951,-0.309L0.363,0.118L0.588,0.809L0,0.382L-0.588,0.809L-0.363,0.118L-0.951,-0.309L-0.225,-0.309Z"}},
{"data":{"values":[{"x":0.993,"y":0.4485,"t":"54.4"}]},"mark":{"type":"text","font":"Open Sans","fontWeight":"bold","fontSize":14.5,"fill":"#111"},"encoding":{"text":{"field":"t"}}},
{"data":{"values":[{"x":1.378,"y":0.36,"t":"V"}]},"mark":{"type":"text","font":"Liberation Sans","fontWeight":"bold","fontStyle":"italic","fontSize":16,"fill":"#3c3c3c","dy":34},"encoding":{"text":{"field":"t"}}},
{"data":{"values":[{"x":1.378,"y":0.36,"t":"R"}]},"mark":{"type":"text","font":"Liberation Sans","fontWeight":"bold","fontStyle":"italic","fontSize":12,"fill":"#3c3c3c","dy":41,"dx":10},"encoding":{"text":{"field":"t"}}}
]},
{"width":66,"height":391.3,"data":{"values":[{}]},"mark":{"type":"rect","opacity":0}},
{"width":239.3,"height":391.3,"title":{"text":"b) Local Polynomial Model","offset":6},
"encoding":{"x":{"field":"x","type":"quantitative","title":null,"scale":{"domain":[0.8,1.2],"nice":false,"zero":false},"axis":{"values":[0.8,0.9,1,1.1,1.2],"format":"~g","labelPadding":7}},"y":{"field":"y","type":"quantitative","scale":{"domain":[0.36,0.5],"nice":false,"zero":false},"axis":{"title":"Inlet pH","values":[0.36,0.38,0.4,0.42,0.44,0.46,0.48,0.5],"format":"~g"}}},
"layer":[
{"data":{"name":"b"},"transform":[{"window":[{"op":"row_number","as":"i"}]}],"mark":{"type":"line","interpolate":"basis-closed","clip":true,"strokeWidth":0},"encoding":{"fill":{"field":"v","type":"quantitative","legend":null,"scale":{"domain":[0,5,12,15,20,22,25,28,35,40,45,50,53,55,60,65,75,77,80,85,90],"range":["#00bcff","#00d8ff","#50ffb0","#66ff90","#a8ff50","#ccff2e","#e6ff1a","#f0ff10","#ffe000","#ffc800","#ffb400","#ff9c00","#ff9000","#ff8800","#ff6600","#ff5000","#ff2a00","#ff1000","#e60000","#c40000","#700000"]}},"detail":{"field":"v","type":"nominal"},"order":{"field":"i","type":"quantitative"}}},
{"data":{"name":"b"},"transform":[{"window":[{"op":"row_number","as":"i"}]},{"filter":"datum.s"}],"mark":{"type":"line","interpolate":"basis","clip":true,"stroke":"#111","strokeWidth":1.5},"encoding":{"detail":{"field":"s","type":"nominal"},"order":{"field":"i","type":"quantitative"}}},
{"data":{"name":"bL"},"mark":{"type":"text","font":"Liberation Sans","fontStyle":"italic","fontSize":12,"fill":"#222"},"encoding":{"text":{"field":"t"},"angle":{"field":"a","type":"quantitative","scale":null}}},
{"data":{"values":[{"x":1.0,"y":0.4205}]},"mark":{"type":"point","filled":true,"fill":"black","stroke":null,"opacity":1,"size":400,"shape":"M0,-1L0.225,-0.309L0.951,-0.309L0.363,0.118L0.588,0.809L0,0.382L-0.588,0.809L-0.363,0.118L-0.951,-0.309L-0.225,-0.309Z"}},
{"data":{"values":[{"x":1.018,"y":0.4268,"t":"80.8"}]},"mark":{"type":"text","font":"Open Sans","fontWeight":"bold","fontSize":14.5,"fill":"#111"},"encoding":{"text":{"field":"t"}}},
{"data":{"values":[{"x":0.99,"y":0.36,"t":"V"}]},"mark":{"type":"text","font":"Liberation Sans","fontWeight":"bold","fontStyle":"italic","fontSize":16,"fill":"#3c3c3c","dy":34},"encoding":{"text":{"field":"t"}}},
{"data":{"values":[{"x":0.99,"y":0.36,"t":"R"}]},"mark":{"type":"text","font":"Liberation Sans","fontWeight":"bold","fontStyle":"italic","fontSize":12,"fill":"#3c3c3c","dy":41,"dx":10},"encoding":{"text":{"field":"t"}}}
]},
{"width":14,"height":391.3,"data":{"values":[{}]},"mark":{"type":"rect","opacity":0}},
{"width":10,"height":391.3,"view":{"stroke":"#555"},"encoding":{"y":{"field":"lo","type":"quantitative","scale":{"domain":[0,90],"nice":false},"axis":{"orient":"right","title":null,"values":[0,10,20,30,40,50,60,70,80,90]}}},
"layer":[
{"data":{"values":[{"lo":0,"hi":90}]},"mark":{"type":"rect","fill":{"gradient":"linear","x1":0,"y1":1,"x2":0,"y2":0,"stops":[{"offset":0,"color":"#00d8ff"},{"offset":0.111,"color":"#38ffc4"},{"offset":0.167,"color":"#66ff90"},{"offset":0.222,"color":"#a8ff50"},{"offset":0.278,"color":"#e6ff1a"},{"offset":0.333,"color":"#ffff00"},{"offset":0.389,"color":"#ffe000"},{"offset":0.444,"color":"#ffc000"},{"offset":0.5,"color":"#ffb000"},{"offset":0.556,"color":"#ff9000"},{"offset":0.611,"color":"#ff7800"},{"offset":0.667,"color":"#ff5800"},{"offset":0.722,"color":"#ff3800"},{"offset":0.778,"color":"#ff1000"},{"offset":0.833,"color":"#e80000"},{"offset":0.889,"color":"#c00000"},{"offset":1,"color":"#700000"}]}},"encoding":{"y2":{"field":"hi"}}},
{"data":{"values":[{"lo":55,"t":"Δamine"}]},"mark":{"type":"text","font":"Liberation Sans","fontWeight":"bold","fontSize":16,"fill":"#3c3c3c","angle":90,"align":"left","baseline":"middle","dy":-48},"encoding":{"text":{"field":"t"}}},
{"data":{"values":[{"lo":41.8,"t":"(org)"}]},"mark":{"type":"text","font":"Liberation Sans","fontWeight":"bold","fontSize":11,"fill":"#3c3c3c","angle":90,"align":"left","baseline":"middle","dy":-40},"encoding":{"text":{"field":"t"}}},
{"data":{"values":[{"lo":35.5,"t":"/%"}]},"mark":{"type":"text","font":"Liberation Sans","fontWeight":"bold","fontSize":16,"fill":"#3c3c3c","angle":90,"align":"left","baseline":"middle","dy":-48},"encoding":{"text":{"field":"t"}}}
]}
]},
{"bounds":"flush","spacing":0,"hconcat":[
{"width":239.7,"height":391.4,"title":{"text":"c) Global GP Model","dx":6,"offset":13},
"encoding":{"x":{"field":"x","type":"quantitative","title":null,"scale":{"domain":[0.8,2.0],"nice":false,"zero":false},"axis":{"values":[0.8,1,1.2,1.4,1.6,1.8],"format":"~g","labelPadding":7}},"y":{"field":"y","type":"quantitative","scale":{"domain":[0.36,0.874],"nice":false,"zero":false},"axis":{"title":"Inlet pH","values":[0.4,0.45,0.5,0.55,0.6,0.65,0.7,0.75,0.8,0.85],"format":"~g"}}},
"layer":[
{"data":{"name":"c"},"transform":[{"window":[{"op":"row_number","as":"i"}]}],"mark":{"type":"line","interpolate":"basis-closed","clip":true,"strokeWidth":0},"encoding":{"fill":{"field":"v","type":"quantitative","legend":null,"scale":{"domain":[0,5,12,15,20,22,25,28,35,40,45,50,53,55,60,65,75,77,80,85,90],"range":["#00bcff","#00d8ff","#50ffb0","#66ff90","#a8ff50","#ccff2e","#e6ff1a","#f0ff10","#ffe000","#ffc800","#ffb400","#ff9c00","#ff9000","#ff8800","#ff6600","#ff5000","#ff2a00","#ff1000","#e60000","#c40000","#700000"]}},"detail":{"field":"v","type":"nominal"},"order":{"field":"i","type":"quantitative"}}},
{"data":{"name":"c"},"transform":[{"window":[{"op":"row_number","as":"i"}]},{"filter":"datum.s"}],"mark":{"type":"line","interpolate":"basis","clip":true,"stroke":"#111","strokeWidth":1.5},"encoding":{"detail":{"field":"s","type":"nominal"},"order":{"field":"i","type":"quantitative"}}},
{"data":{"values":[{"x":0.805,"x2":1.2,"y":0.361,"y2":0.5}]},"mark":{"type":"rect","fill":null,"stroke":"#111","strokeWidth":2.2,"strokeDash":[9,5]},"encoding":{"x2":{"field":"x2"},"y2":{"field":"y2"}}},
{"data":{"values":[{"x":1.0,"y":0.4204}]},"mark":{"type":"point","filled":true,"fill":"black","stroke":null,"opacity":1,"size":400,"shape":"M0,-1L0.225,-0.309L0.951,-0.309L0.363,0.118L0.588,0.809L0,0.382L-0.588,0.809L-0.363,0.118L-0.951,-0.309L-0.225,-0.309Z"}},
{"data":{"values":[{"x":1.029,"y":0.4546,"t":"76.4"}]},"mark":{"type":"text","font":"Open Sans","fontWeight":"bold","fontSize":14.5,"fill":"#111"},"encoding":{"text":{"field":"t"}}},
{"data":{"values":[{"x":1.374,"y":0.36,"t":"V"}]},"mark":{"type":"text","font":"Liberation Sans","fontWeight":"bold","fontSize":16,"fill":"#3c3c3c","dy":34},"encoding":{"text":{"field":"t"}}},
{"data":{"values":[{"x":1.374,"y":0.36,"t":"R"}]},"mark":{"type":"text","font":"Liberation Sans","fontWeight":"bold","fontSize":12,"fill":"#3c3c3c","dy":43,"dx":11},"encoding":{"text":{"field":"t"}}}
]},
{"width":75,"height":391.4,"data":{"values":[{}]},"mark":{"type":"rect","opacity":0}},
{"width":239.3,"height":391.4,"title":{"text":"d) Local GP Model","offset":5},
"encoding":{"x":{"field":"x","type":"quantitative","title":null,"scale":{"domain":[0.8,1.2],"nice":false,"zero":false},"axis":{"values":[0.8,0.9,1,1.1,1.2],"format":"~g","labelPadding":7}},"y":{"field":"y","type":"quantitative","scale":{"domain":[0.36,0.5],"nice":false,"zero":false},"axis":{"title":"Inlet pH","values":[0.36,0.38,0.4,0.42,0.44,0.46,0.48,0.5],"format":"~g"}}},
"layer":[
{"data":{"name":"d"},"transform":[{"window":[{"op":"row_number","as":"i"}]}],"mark":{"type":"line","interpolate":"basis-closed","clip":true,"strokeWidth":0},"encoding":{"fill":{"field":"v","type":"quantitative","legend":null,"scale":{"domain":[0,5,12,15,20,22,25,28,35,40,45,50,53,55,60,65,75,77,80,85,90],"range":["#00bcff","#00d8ff","#50ffb0","#66ff90","#a8ff50","#ccff2e","#e6ff1a","#f0ff10","#ffe000","#ffc800","#ffb400","#ff9c00","#ff9000","#ff8800","#ff6600","#ff5000","#ff2a00","#ff1000","#e60000","#c40000","#700000"]}},"detail":{"field":"v","type":"nominal"},"order":{"field":"i","type":"quantitative"}}},
{"data":{"name":"d"},"transform":[{"window":[{"op":"row_number","as":"i"}]},{"filter":"datum.s"}],"mark":{"type":"line","interpolate":"basis","clip":true,"stroke":"#111","strokeWidth":1.5},"encoding":{"detail":{"field":"s","type":"nominal"},"order":{"field":"i","type":"quantitative"}}},
{"data":{"values":[{"x":1.001,"y":0.4201}]},"mark":{"type":"point","filled":true,"fill":"black","stroke":null,"opacity":1,"size":400,"shape":"M0,-1L0.225,-0.309L0.951,-0.309L0.363,0.118L0.588,0.809L0,0.382L-0.588,0.809L-0.363,0.118L-0.951,-0.309L-0.225,-0.309Z"}},
{"data":{"values":[{"x":0.979,"y":0.414,"t":"87.0"}]},"mark":{"type":"text","font":"Open Sans","fontWeight":"bold","fontSize":14.5,"fill":"#111"},"encoding":{"text":{"field":"t"}}},
{"data":{"values":[{"x":0.99,"y":0.36,"t":"V"}]},"mark":{"type":"text","font":"Liberation Sans","fontWeight":"bold","fontSize":16,"fill":"#3c3c3c","dy":34},"encoding":{"text":{"field":"t"}}},
{"data":{"values":[{"x":0.99,"y":0.36,"t":"R"}]},"mark":{"type":"text","font":"Liberation Sans","fontWeight":"bold","fontSize":12,"fill":"#3c3c3c","dy":43,"dx":11},"encoding":{"text":{"field":"t"}}}
]},
{"width":15.7,"height":391.4,"data":{"values":[{}]},"mark":{"type":"rect","opacity":0}},
{"width":11,"height":391.4,"view":{"stroke":"#555"},"encoding":{"y":{"field":"lo","type":"quantitative","scale":{"domain":[0,90],"nice":false},"axis":{"orient":"right","title":null,"values":[0,10,20,30,40,50,60,70,80,90]}}},
"layer":[
{"data":{"values":[{"lo":0,"hi":90}]},"mark":{"type":"rect","fill":{"gradient":"linear","x1":0,"y1":1,"x2":0,"y2":0,"stops":[{"offset":0,"color":"#00d8ff"},{"offset":0.111,"color":"#38ffc4"},{"offset":0.167,"color":"#66ff90"},{"offset":0.222,"color":"#a8ff50"},{"offset":0.278,"color":"#e6ff1a"},{"offset":0.333,"color":"#ffff00"},{"offset":0.389,"color":"#ffe000"},{"offset":0.444,"color":"#ffc000"},{"offset":0.5,"color":"#ffb000"},{"offset":0.556,"color":"#ff9000"},{"offset":0.611,"color":"#ff7800"},{"offset":0.667,"color":"#ff5800"},{"offset":0.722,"color":"#ff3800"},{"offset":0.778,"color":"#ff1000"},{"offset":0.833,"color":"#e80000"},{"offset":0.889,"color":"#c00000"},{"offset":1,"color":"#700000"}]}},"encoding":{"y2":{"field":"hi"}}},
{"data":{"values":[{"lo":56,"t":"Δamine"}]},"mark":{"type":"text","font":"Liberation Sans","fontWeight":"bold","fontSize":16,"fill":"#3c3c3c","angle":90,"align":"left","baseline":"middle","dy":-45.5},"encoding":{"text":{"field":"t"}}},
{"data":{"values":[{"lo":42.8,"t":"(org)"}]},"mark":{"type":"text","font":"Liberation Sans","fontWeight":"bold","fontSize":11,"fill":"#3c3c3c","angle":90,"align":"left","baseline":"middle","dy":-38},"encoding":{"text":{"field":"t"}}},
{"data":{"values":[{"lo":36.5,"t":"/%"}]},"mark":{"type":"text","font":"Liberation Sans","fontWeight":"bold","fontSize":16,"fill":"#3c3c3c","angle":90,"align":"left","baseline":"middle","dy":-45.5},"encoding":{"text":{"field":"t"}}}
]}
]}
]}
